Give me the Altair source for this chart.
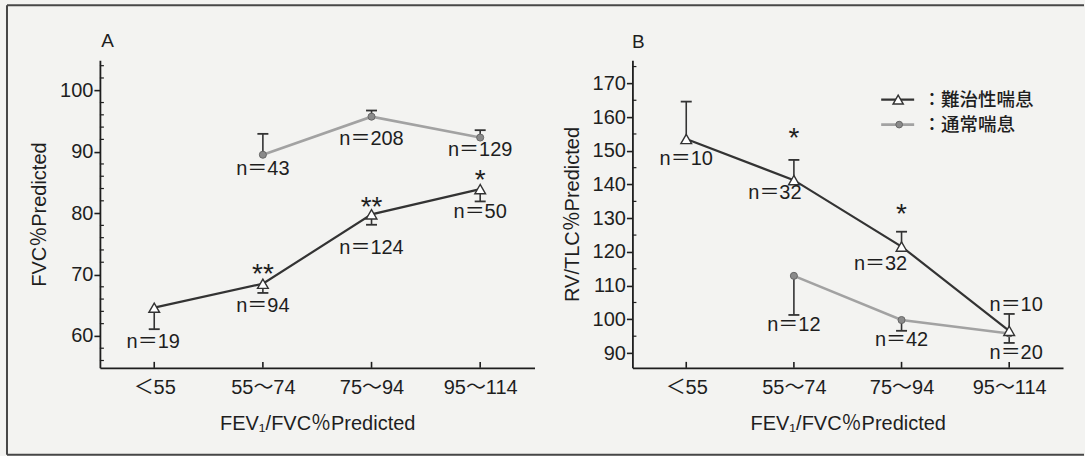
import altair as alt
import pandas as pd

# FEV1/FVC %predicted groups
categories = ["＜55", "55～74", "75～94", "95～114"]

# Panel A: FVC %predicted (refractory asthma vs. ordinary asthma)
fvc_refractory = [64.6, 68.5, 79.8, 83.9]
fvc_refractory_err = [61.1, 67.0, 78.1, 81.9]
fvc_refractory_n = ["n＝19", "n＝94", "n＝124", "n＝50"]
fvc_normal = [None, 89.5, 95.7, 92.3]
fvc_normal_err = [None, 92.9, 96.7, 93.5]
fvc_normal_n = [None, "n＝43", "n＝208", "n＝129"]
fvc_signif = ["", "**", "**", "*"]

# Panel B: RV/TLC %predicted
rv_refractory = [153.5, 141.3, 121.6, 96.6]
rv_refractory_err = [164.6, 147.3, 126.0, 101.6]
rv_refractory_n = ["n＝10", "n＝32", "n＝32", "n＝10"]
rv_normal = [None, 112.9, 99.8, 95.8]
rv_normal_err = [None, 101.3, 96.6, 93.0]
rv_normal_n = [None, "n＝12", "n＝42", "n＝20"]
rv_signif = ["", "*", "*", ""]

legend_labels = ["：難治性喘息", "：通常喘息"]

# label placement (pixel offsets from each point)
fvc_refr_off = [(-1, 34), (0, 22), (0, 34), (0, 23)]
fvc_norm_off = [None, (0, 14), (0, 22), (0, 12)]
fvc_sig_dy = [0, -8.5, -6, -8]
rv_refr_off = [(0, 20), (-19, 13), (-21, 17), (7, -26)]
rv_norm_off = [None, (0, 49), (0, 20.5), (7, 20)]
rv_sig_dy = [0, -21, -17, 0]

FONT = "Liberation Sans, Arial, Noto Sans CJK JP"
CJK = "Noto Sans CJK JP"
DARK = "#333333"
GREY_LINE = "#a2a2a2"
INK = "#1e1e1e"
ORDER_EXPR = "indexof(" + str(categories) + ", datum.cat)"


def build_panel(refr, refr_err, refr_n, refr_off, norm, norm_err, norm_n, norm_off,
                signif, sig_dy, domain, majors, minors, y_title, width, height,
                tag, tag_pos, legend=False, border=False):
    xscale = alt.Scale(type="point", domain=categories, padding=0.5)
    yscale = alt.Scale(domain=domain, nice=False, zero=False)

    xaxis = alt.Axis(
        title="FEV₁/FVC％Predicted", ticks=False, tickSize=0, labelAngle=0,
        labelBaseline="middle", labelPadding=20, labelFontSize=20, labelFont=FONT,
        labelColor=INK, titleFont=FONT, titleFontSize=20, titleFontWeight="normal",
        titleColor=INK, titleY=56, titleBaseline="middle",
        domainColor=INK, domainWidth=1.8, grid=False)
    yaxis = alt.Axis(
        title=y_title, values=majors, tickSize=6, tickWidth=1.6, tickColor=INK,
        labelPadding=1, labelFontSize=20, labelFont=FONT, labelColor=INK,
        titleFont=FONT, titleFontSize=20, titleFontWeight="normal", titleColor=INK,
        titleAngle=270, titleX=-60, titleY=height / 2, titleAlign="center",
        titleBaseline="middle", domainColor=INK, domainWidth=1.8, grid=False)

    refr_df = pd.DataFrame({"cat": categories, "v": refr, "err": refr_err,
                            "n": refr_n, "sig": signif})
    norm_df = pd.DataFrame({"cat": categories, "v": norm, "err": norm_err,
                            "n": norm_n}).dropna()

    X = alt.X("cat:N", scale=xscale, axis=xaxis)
    Y = alt.Y("v:Q", scale=yscale, axis=yaxis)
    Y_err = alt.Y("err:Q", scale=yscale, axis=yaxis)

    layers = []
    # lines
    layers.append(alt.Chart(norm_df).mark_line(color=GREY_LINE, strokeWidth=2.6).encode(
        x=X, y=Y, order="cat_order:Q").transform_calculate(cat_order=ORDER_EXPR))
    layers.append(alt.Chart(refr_df).mark_line(color=DARK, strokeWidth=2.2).encode(
        x=X, y=Y, order="cat_order:Q").transform_calculate(cat_order=ORDER_EXPR))

    # error bars with caps
    for df in (refr_df, norm_df):
        layers.append(alt.Chart(df).mark_rule(color=DARK, strokeWidth=1.6).encode(
            x=X, y=Y, y2="err:Q"))
        layers.append(alt.Chart(df).mark_tick(
            orient="horizontal", color=DARK, size=11, thickness=1.8, opacity=1).encode(
            x=X, y=Y_err))

    # markers
    layers.append(alt.Chart(norm_df).mark_point(
        shape="circle", filled=True, fill="#8a8a8a", stroke="#666666",
        strokeWidth=1, size=50, opacity=1).encode(x=X, y=Y))
    layers.append(alt.Chart(refr_df).mark_point(
        shape="triangle-up", filled=True, fill="white", stroke=DARK,
        strokeWidth=1.4, size=115, opacity=1).encode(x=X, y=Y))

    # sample-size labels
    for df, offs in ((refr_df, refr_off), (norm_df, norm_off)):
        for i, row in df.iterrows():
            dx, dy = offs[i]
            layers.append(alt.Chart(df.loc[[i]]).mark_text(
                dx=dx, dy=dy, font=FONT, fontSize=20, color=INK, baseline="middle").encode(
                x=X, y=Y, text="n:N"))

    # significance marks
    for i, row in refr_df.iterrows():
        if row["sig"]:
            y_enc = Y_err if refr_err[i] > refr[i] else Y
            layers.append(alt.Chart(refr_df.loc[[i]]).mark_text(
                dy=sig_dy[i], font=FONT, fontSize=28, color=INK, baseline="middle").encode(
                x=X, y=y_enc, text="sig:N"))

    # inward category ticks on the x axis
    layers.append(alt.Chart(refr_df).mark_rule(color=INK, strokeWidth=1.6).encode(
        x=X, y=alt.value(height), y2=alt.value(height - 6)))

    # minor ticks on the y axis
    minor_df = pd.DataFrame({"v": minors})
    layers.append(alt.Chart(minor_df).mark_rule(color=INK, strokeWidth=1.2).encode(
        y=Y, x=alt.value(0), x2=alt.value(4)))

    # panel tag
    tag_df = pd.DataFrame({"t": [tag]})
    layers.append(alt.Chart(tag_df).mark_text(
        font=FONT, fontSize=19, color=INK, align="center", baseline="middle").encode(
        x=alt.value(tag_pos[0]), y=alt.value(tag_pos[1]), text="t:N"))

    if legend:
        leg_df = pd.DataFrame({"t": legend_labels, "k": [0, 1]})
        rows = [(39.5, DARK, 2.2), (64.5, GREY_LINE, 2.6)]
        for k, (yy, col, sw) in enumerate(rows):
            one = leg_df[leg_df.k == k]
            layers.append(alt.Chart(one).mark_rule(color=col, strokeWidth=sw).encode(
                x=alt.value(249), x2=alt.value(282), y=alt.value(yy)))
            if k == 0:
                layers.append(alt.Chart(one).mark_point(
                    shape="triangle-up", filled=True, fill="white", stroke=DARK,
                    strokeWidth=1.4, size=105, opacity=1).encode(
                    x=alt.value(266), y=alt.value(yy)))
            else:
                layers.append(alt.Chart(one).mark_point(
                    shape="circle", filled=True, fill="#8a8a8a", stroke="#666666",
                    strokeWidth=1, size=45, opacity=1).encode(
                    x=alt.value(267), y=alt.value(yy)))
            layers.append(alt.Chart(one).mark_text(
                font=CJK, fontSize=18.5, color=INK, align="left", baseline="middle",
                fontWeight=500, lineHeight=18).encode(
                x=alt.value(290.5), y=alt.value(yy), text="t:N"))

    if border:
        bdf = pd.DataFrame({"b": [0]})
        # frame around the whole figure (left, top, bottom)
        layers.append(alt.Chart(bdf).mark_rule(color="#474747", strokeWidth=2).encode(
            x=alt.value(-93), y=alt.value(-55), y2=alt.value(395)))
        layers.append(alt.Chart(bdf).mark_rule(color="#474747", strokeWidth=2).encode(
            x=alt.value(-93), x2=alt.value(985), y=alt.value(-55)))
        layers.append(alt.Chart(bdf).mark_rule(color="#474747", strokeWidth=2).encode(
            x=alt.value(-93), x2=alt.value(985), y=alt.value(395)))

    return alt.layer(*layers).properties(width=width, height=height)


panel_a = build_panel(
    fvc_refractory, fvc_refractory_err, fvc_refractory_n, fvc_refr_off,
    fvc_normal, fvc_normal_err, fvc_normal_n, fvc_norm_off,
    fvc_signif, fvc_sig_dy, domain=[54.8, 104.9],
    majors=[60, 70, 80, 90, 100],
    minors=[v for v in range(56, 105, 2) if v % 10 != 0],
    y_title="FVC％Predicted", width=435, height=308,
    tag="A", tag_pos=(7.7, -19), border=True)

panel_b = build_panel(
    rv_refractory, rv_refractory_err, rv_refractory_n, rv_refr_off,
    rv_normal, rv_normal_err, rv_normal_n, rv_norm_off,
    rv_signif, rv_sig_dy, domain=[85.6, 176.9],
    majors=[90, 100, 110, 120, 130, 140, 150, 160, 170],
    minors=[v for v in range(95, 177, 10)],
    y_title="RV/TLC％Predicted", width=431, height=308,
    tag="B", tag_pos=(6, -18), legend=True)

chart = alt.hconcat(panel_a, panel_b, spacing=98, bounds="flush").properties(
    padding={"left": 6, "top": 4, "right": 0, "bottom": 0},
    background="#f3f3f1",
).configure_view(stroke=None)

chart.save("out.html", embed_options={"renderer": "svg", "actions": False})
